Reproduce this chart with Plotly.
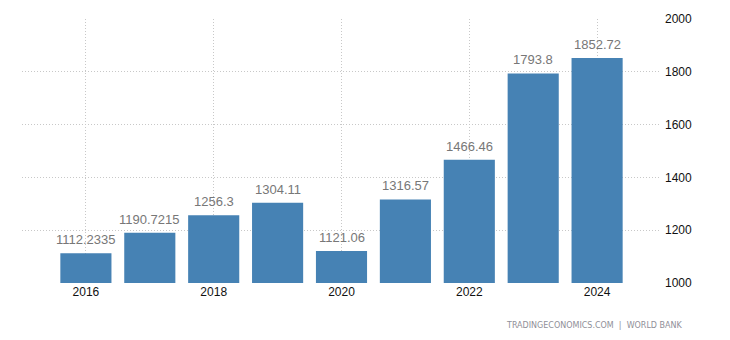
import plotly.graph_objects as go

years = [2016, 2017, 2018, 2019, 2020, 2021, 2022, 2023, 2024]
values = [1112.2335, 1190.7215, 1256.3, 1304.11, 1121.06, 1316.57, 1466.46, 1793.8, 1852.72]
labels = ["1112.2335", "1190.7215", "1256.3", "1304.11", "1121.06", "1316.57", "1466.46", "1793.8", "1852.72"]
x_ticks = [2016, 2018, 2020, 2022, 2024]
y_ticks = [1000, 1200, 1400, 1600, 1800, 2000]

FONT = "Liberation Sans, Arial, sans-serif"

fig = go.Figure()
fig.add_trace(go.Bar(
    x=years, y=values,
    marker=dict(color="#4682b4", line=dict(width=0)),
    width=0.8, hoverinfo="skip",
))

annotations = [
    dict(x=x, y=v, text=t, xref="x", yref="y", showarrow=False,
         xanchor="center", yanchor="bottom", yshift=4,
         font=dict(family=FONT, size=13, color="#777777"))
    for x, v, t in zip(years, values, labels)
]
annotations.append(dict(
    text="TRADINGECONOMICS.COM  |  WORLD BANK", xref="paper", yref="paper",
    x=1.0, y=0, xanchor="right", yanchor="middle", yshift=-42, xshift=23,
    borderpad=0,
    showarrow=False, font=dict(family="DejaVu Sans, Verdana, sans-serif", size=8, color="#8f8f98"),
))

fig.update_layout(
    width=730, height=340,
    margin=dict(l=22, r=69, t=19, b=57),
    paper_bgcolor="white", plot_bgcolor="white",
    showlegend=False,
    font=dict(family=FONT, size=12, color="#111"),
    xaxis=dict(
        range=[2015, 2025], tickvals=x_ticks, ticktext=[str(v) for v in x_ticks],
        showgrid=True, gridcolor="#c8c8c8", griddash="1px,2px", gridwidth=1,
        zeroline=False, showline=False, ticks="", tickfont=dict(size=12, color="#111"),
    ),
    yaxis=dict(
        range=[1000, 2000], tickvals=y_ticks, side="right",
        showgrid=True, gridcolor="#c8c8c8", griddash="1px,2px", gridwidth=1,
        zeroline=False, showline=False, ticks="", ticklabelstandoff=3,
        tickfont=dict(size=12, color="#111"),
    ),
    bargap=0.2,
    annotations=annotations,
)

fig.write_html("out.html")
